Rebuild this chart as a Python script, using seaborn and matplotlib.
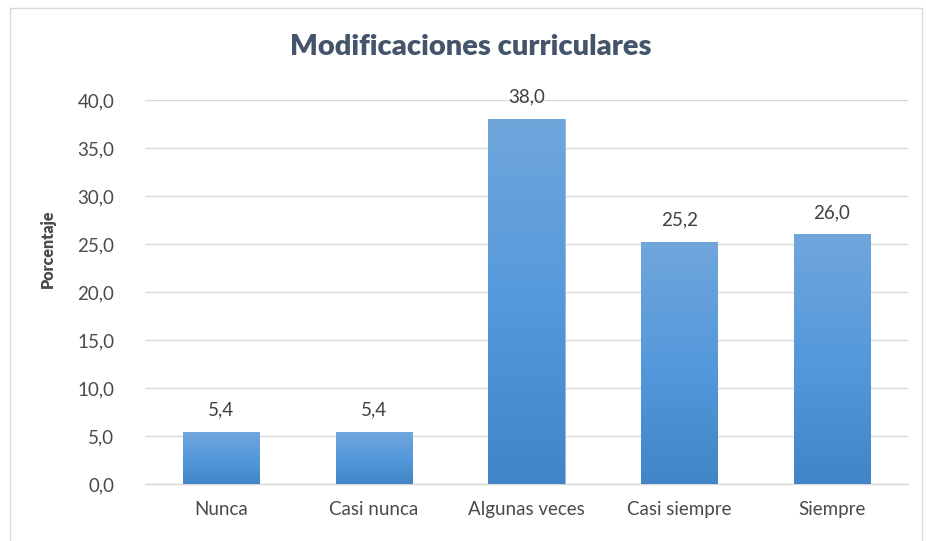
import numpy as np
import pandas as pd
import matplotlib
matplotlib.use("Agg")
import matplotlib.pyplot as plt
from matplotlib.colors import LinearSegmentedColormap
from matplotlib.patches import Rectangle
import seaborn as sns

# data
categorias = ["Nunca", "Casi nunca", "Algunas veces", "Casi siempre", "Siempre"]
porcentajes = [5.4, 5.4, 38.0, 25.2, 26.0]
yticks = [0, 5, 10, 15, 20, 25, 30, 35, 40]

df = pd.DataFrame({"categoria": categorias, "porcentaje": porcentajes})

sns.set_style("white")
plt.rcParams["font.family"] = ["Lato", "DejaVu Sans"]

fig = plt.figure(figsize=(9.26, 5.41), dpi=100)
ax = fig.add_axes([0.1566, 0.1054, 0.8240, 0.7098])

sns.barplot(data=df, x="categoria", y="porcentaje", color="#5b9bd5",
            width=0.5, saturation=1, ax=ax, zorder=2)

# vertical gradient on every bar (light on top, darker at the base)
cmap = LinearSegmentedColormap.from_list("grad", ["#4285c6", "#5599dc", "#70a6db"])
grad = np.linspace(0, 1, 256).reshape(-1, 1)
for bar in ax.patches:
    x0, y0 = bar.get_x(), bar.get_y()
    w, h = bar.get_width(), bar.get_height()
    im = ax.imshow(grad, cmap=cmap, origin="lower", aspect="auto",
                   extent=(x0, x0 + w, y0, y0 + h), zorder=3)
    im.set_clip_path(bar)
    bar.set_edgecolor("#8fb8e3")
    bar.set_linewidth(0.6)
    ax.text(x0 + w / 2, h + 1.4, f"{h:.1f}".replace(".", ","),
            ha="center", va="bottom", fontsize=13.5, color="#404040", zorder=4)

ax.set_xlim(-0.5, len(categorias) - 0.5)
ax.set_ylim(0, 40)
ax.set_yticks(yticks)
ax.set_yticklabels([f"{t:.1f}".replace(".", ",") for t in yticks])
ax.yaxis.grid(True, color="#d9d9d9", linewidth=1.0, zorder=0)
ax.set_axisbelow(True)
for s in ["top", "right", "left"]:
    ax.spines[s].set_visible(False)
ax.spines["bottom"].set_color("#d9d9d9")
ax.spines["bottom"].set_linewidth(1.0)
ax.tick_params(axis="both", length=0, labelsize=13.5, labelcolor="#4a4a4a")
ax.tick_params(axis="x", pad=12)
ax.tick_params(axis="y", pad=22)
ax.set_xlabel("")
ax.set_ylabel("")

fig.text(0.052, 0.54, "Porcentaje", rotation=90, ha="center", va="center",
         fontsize=11.5, fontweight="heavy", color="#4a4a4a")
fig.text(0.508, 0.913, "Modificaciones curriculares", ha="center", va="center",
         fontsize=21, fontweight="heavy", color="#44546a")

# chart frame
fig.patches.append(Rectangle((0.011, -0.01), 0.985, 0.995, transform=fig.transFigure,
                             fill=False, edgecolor="#d9d9d9", linewidth=1.0))

fig.savefig("out.png", dpi=100)
